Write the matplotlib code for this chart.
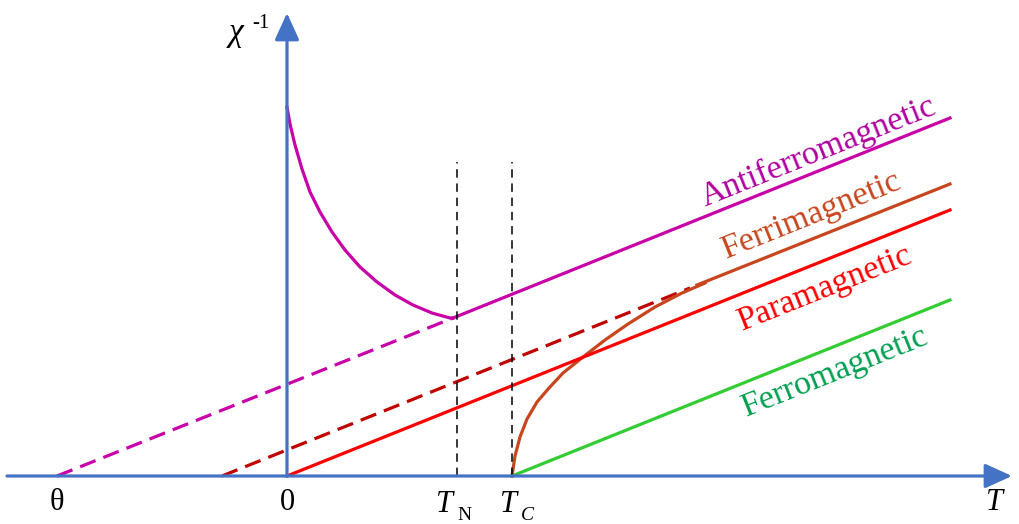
#-*- cording: utf-8 -*-

#‾‾‾‾‾‾‾‾‾‾‾‾‾‾‾‾‾‾‾‾‾‾‾‾‾‾‾‾‾‾‾‾‾‾‾‾‾‾‾‾‾‾‾‾‾‾‾‾‾‾‾‾‾‾‾‾‾‾‾‾‾‾‾‾‾‾‾‾‾
# ----- Include library -----
import numpy as np
import matplotlib
matplotlib.use("Agg")
import matplotlib.pyplot as plt
#_____________________________________________________________________

#‾‾‾‾‾‾‾‾‾‾‾‾‾‾‾‾‾‾‾‾‾‾‾‾‾‾‾‾‾‾‾‾‾‾‾‾‾‾‾‾‾‾‾‾‾‾‾‾‾‾‾‾‾‾‾‾‾‾‾‾‾‾‾‾‾‾‾‾‾
# ----- Data (T : temperature, inv_chi : 1/chi, arbitrary units) -----
theta = -230
T_N = 170
T_C = 225

# Antiferromagnetic
afm_curve_T = [0, 3, 8, 15, 23, 33, 45, 58, 73, 90, 108, 126, 145, 163, 166]
afm_curve_y = [369, 352, 331, 307, 284, 264, 244, 226, 209, 194, 181, 171, 163, 158, 158]
afm_dash_T = [theta, 166]
afm_dash_y = [0, 158]
afm_line_T = [166, 663]
afm_line_y = [158, 358]

# Ferrimagnetic
fim_curve_T = [225, 228, 233, 240, 250, 262, 276, 296, 318, 341, 368, 395, 418]
fim_curve_y = [0, 20, 39, 57, 74, 88, 103, 119, 136, 152, 169, 183, 193]
fim_dash_T = [-65, 403]
fim_dash_y = [0, 188]
fim_line_T = [410, 663]
fim_line_y = [191, 292]

# Paramagnetic
para_T = [0, 663]
para_y = [0, 266]

# Ferromagnetic
fm_T = [T_C, 663]
fm_y = [0, 176]

tick_pos = [theta, 0]
tick_txt = ["θ", "0"]
#_____________________________________________________________________

AXIS_COLOR = "#4472C4"
SERIF = ["Liberation Serif", "DejaVu Serif"]


######################################################################
## @brief      Draw arrow axis
######################################################################
def draw_axis(ax, start, end):
    ax.annotate("", xy=end, xytext=start,
                arrowprops=dict(arrowstyle="-|>,head_length=0.55,head_width=0.25",
                                color=AXIS_COLOR, lw=2.3, mutation_scale=30,
                                shrinkA=0, shrinkB=0))


######################################################################
## @brief      Main processing
######################################################################
def main_proc():
    fig = plt.figure(figsize=(10.19, 5.24), dpi=100)
    ax = fig.add_axes([0, 0, 1, 1])
    ax.set_xlim(-287, 732)
    ax.set_ylim(-48, 476)
    ax.axis("off")

    lw = 2.3
    # 1/chi の曲線と直線
    ax.plot(afm_curve_T, afm_curve_y, color="#C800A8", lw=lw,
            solid_joinstyle="round")
    ax.plot(afm_line_T, afm_line_y, color="#C800A8", lw=lw)
    ax.plot(afm_dash_T, afm_dash_y, color="#C800A8", lw=lw, dashes=(5.2, 2.6))

    ax.plot(fim_dash_T, fim_dash_y, color="#C00000", lw=lw, dashes=(5.2, 2.6))
    ax.plot(fim_line_T, fim_line_y, color="#C8461E", lw=lw)
    ax.plot(fim_curve_T, fim_curve_y, color="#C8461E", lw=lw,
            solid_joinstyle="round")

    ax.plot(para_T, para_y, color="#FF0000", lw=lw)
    ax.plot(fm_T, fm_y, color="#33CC33", lw=lw)

    # T_N, T_C の補助線
    for t in [T_N, T_C]:
        ax.plot([t, t], [0, 314], color="black", lw=1.1, dashes=(5.5, 3.8))

    # 軸
    draw_axis(ax, (-280, 0), (725, 0))
    draw_axis(ax, (0, 0), (0, 463))

    # 目盛ラベル
    for p, s in zip(tick_pos, tick_txt):
        ax.text(p, -34, s, fontsize=22, family=SERIF, ha="center", va="baseline")
    ax.text(T_N - 13, -36, "T", fontsize=22, family=SERIF, style="italic",
            ha="center", va="baseline")
    ax.text(T_N + 7, -44, "N", fontsize=14, family=SERIF,
            ha="center", va="baseline")
    ax.text(T_C - 3, -36, "T", fontsize=22, family=SERIF, style="italic",
            ha="center", va="baseline")
    ax.text(T_C + 15, -44, "C", fontsize=14, family=SERIF, style="italic",
            ha="center", va="baseline")
    ax.text(708, -34, "T", fontsize=22, family=SERIF, style="italic",
            ha="center", va="baseline")
    ax.text(-51, 443, "χ", fontsize=24, family=SERIF, style="italic",
            ha="center", va="center")
    ax.text(-26, 453, "-1", fontsize=15, family=SERIF,
            ha="center", va="center")

    # 曲線ラベル
    ang = np.degrees(np.arctan(0.401))
    labels = [("Antiferromagnetic", 531, 324, "#B000A0"),
              ("Ferrimagnetic", 525, 261, "#C8461E"),
              ("Paramagnetic", 538, 188, "#FF0000"),
              ("Ferromagnetic", 548, 104, "#00A050")]
    for s, x, y, c in labels:
        ax.text(x, y, s, fontsize=24.5, family=SERIF, color=c, rotation=ang,
                rotation_mode="anchor", ha="center", va="center")

    fig.savefig("out.png", dpi=100)
#_____________________________________________________________________

if __name__ == '__main__':
    main_proc()
